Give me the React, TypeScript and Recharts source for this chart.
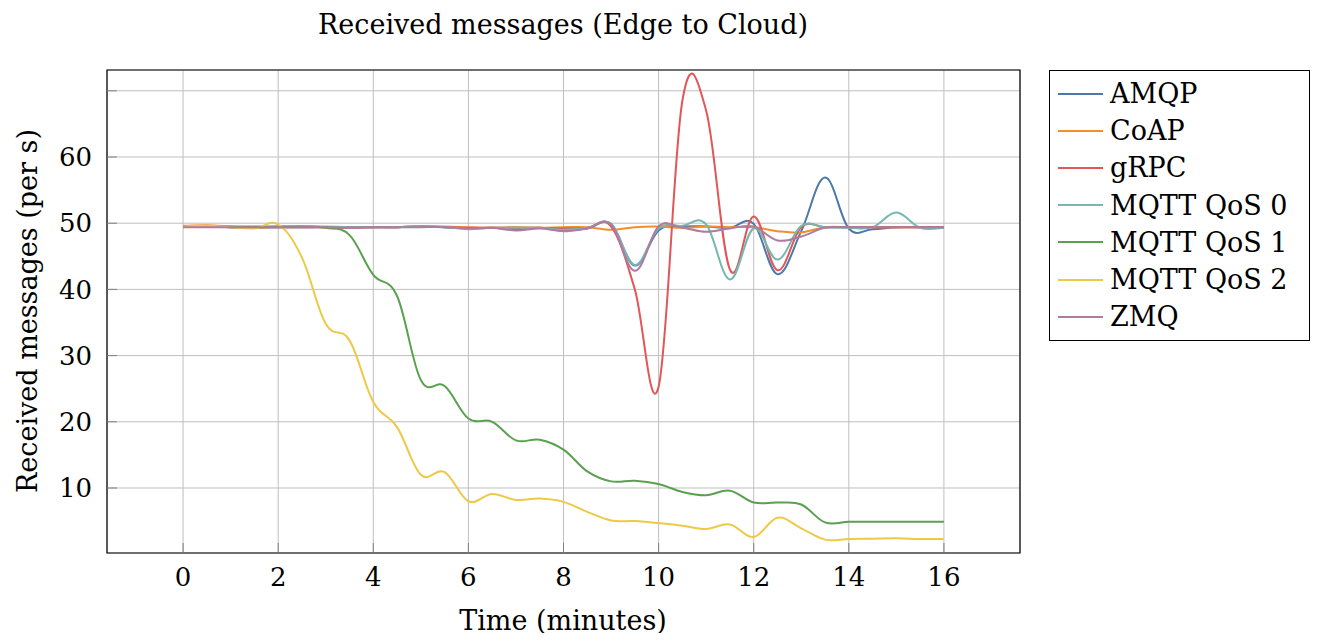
import React from 'react';
import { LineChart, Line, XAxis, YAxis, CartesianGrid, ReferenceArea } from 'recharts';

// sample times, one every 30 s
const minutes = [
  0, 0.5, 1, 1.5, 2, 2.5, 3, 3.5, 4, 4.5, 5, 5.5, 6, 6.5, 7, 7.5, 8,
  8.5, 9, 9.5, 10, 10.5, 11, 11.5, 12, 12.5, 13, 13.5, 14, 14.5, 15, 15.5, 16,
];

const amqp = [
  49.5, 49.5, 49.4, 49.4, 49.4, 49.4, 49.4, 49.4, 49.4, 49.4, 49.5, 49.4, 49.2, 49.3, 49.1, 49.3, 48.9,
  49.2, 49.9, 43.6, 48.9, 49.5, 49.5, 49.3, 49.9, 42.3, 48.8, 56.9, 49.2, 49.1, 49.4, 49.4, 49.4,
];
const coap = [
  49.6, 49.7, 49.5, 49.3, 49.5, 49.5, 49.4, 49.3, 49.4, 49.4, 49.5, 49.5, 49.4, 49.3, 49.4, 49.3, 49.4,
  49.4, 49.0, 49.4, 49.5, 49.3, 49.5, 49.4, 49.4, 48.8, 48.6, 49.4, 49.4, 49.4, 49.4, 49.4, 49.4,
];
const grpc = [
  49.5, 49.5, 49.4, 49.4, 49.4, 49.4, 49.4, 49.4, 49.4, 49.4, 49.5, 49.4, 49.3, 49.3, 49.3, 49.3, 49.2,
  49.3, 49.5, 40.0, 25.3, 68.5, 67.0, 43.0, 51.0, 42.9, 49.4, 49.4, 49.4, 49.4, 49.4, 49.4, 49.4,
];
const mqtt0 = [
  49.5, 49.5, 49.4, 49.4, 49.4, 49.5, 49.5, 49.4, 49.4, 49.4, 49.5, 49.4, 49.1, 49.3, 49.3, 49.3, 49.0,
  49.3, 49.9, 43.7, 49.2, 49.6, 49.8, 41.5, 49.2, 44.5, 49.6, 49.4, 49.3, 49.4, 51.6, 49.3, 49.3,
];
const mqtt1 = [
  49.5, 49.5, 49.5, 49.5, 49.5, 49.5, 49.3, 48.2, 42.2, 39.0, 26.3, 25.4, 20.5, 20.0, 17.2, 17.3, 15.8,
  12.5, 11.0, 11.1, 10.6, 9.4, 8.9, 9.6, 7.8, 7.8, 7.5, 4.8, 4.9, 4.9, 4.9, 4.9, 4.9,
];
const mqtt2 = [
  49.5, 49.6, 49.4, 49.2, 49.8, 44.8, 34.8, 32.3, 23.0, 19.2, 12.0, 12.4, 8.0, 9.1, 8.2, 8.4, 7.9,
  6.4, 5.1, 5.0, 4.7, 4.3, 3.8, 4.5, 2.6, 5.5, 3.9, 2.2, 2.3, 2.35, 2.4, 2.3, 2.3,
];
const zmq = [
  49.4, 49.4, 49.4, 49.4, 49.4, 49.4, 49.4, 49.3, 49.4, 49.4, 49.4, 49.4, 49.2, 49.3, 48.9, 49.2, 48.8,
  49.2, 49.8, 42.8, 49.5, 49.3, 48.7, 49.2, 49.5, 47.4, 48.0, 49.3, 49.4, 49.4, 49.4, 49.4, 49.4,
];

const xTicks = [0, 2, 4, 6, 8, 10, 12, 14, 16];
const yTicks = [10, 20, 30, 40, 50, 60, 70];

const series = [
  { key: 'amqp', name: 'AMQP', values: amqp, color: '#4e79a7' },
  { key: 'coap', name: 'CoAP', values: coap, color: '#f28e2b' },
  { key: 'grpc', name: 'gRPC', values: grpc, color: '#e15759' },
  { key: 'mqtt0', name: 'MQTT QoS 0', values: mqtt0, color: '#76b7b2' },
  { key: 'mqtt1', name: 'MQTT QoS 1', values: mqtt1, color: '#59a14f' },
  { key: 'mqtt2', name: 'MQTT QoS 2', values: mqtt2, color: '#edc948' },
  { key: 'zmq', name: 'ZMQ', values: zmq, color: '#b07aa1' },
];

const data = minutes.map((t, i) => {
  const row: Record<string, number> = { t };
  series.forEach((s) => {
    row[s.key] = s.values[i];
  });
  return row;
});

const X_DOMAIN: [number, number] = [-1.6, 17.6];
const Y_DOMAIN: [number, number] = [0.18, 73.14];

const font = "'DejaVu Serif', serif";

// cardinal spline like pgfplots "smooth"
const smooth = (context: any) => {
  let pts: number[][] = [];
  const k = 0.183;
  return {
    areaStart() {},
    areaEnd() {},
    lineStart() {
      pts = [];
    },
    point(x: number, y: number) {
      pts.push([+x, +y]);
    },
    lineEnd() {
      const n = pts.length;
      if (!n) return;
      context.moveTo(pts[0][0], pts[0][1]);
      for (let i = 0; i < n - 1; i++) {
        const p0 = pts[Math.max(i - 1, 0)];
        const p1 = pts[i];
        const p2 = pts[i + 1];
        const p3 = pts[Math.min(i + 2, n - 1)];
        const c1x = p1[0] + k * (p2[0] - p0[0]);
        const c1y = p1[1] + k * (p2[1] - p0[1]);
        const c2x = p2[0] - k * (p3[0] - p1[0]);
        const c2y = p2[1] - k * (p3[1] - p1[1]);
        context.bezierCurveTo(c1x, c1y, c2x, c2y, p2[0], p2[1]);
      }
    },
  };
};

const LegendBox = () => (
  <div
    style={{
      position: 'absolute',
      left: 1041,
      top: 62,
      width: 261,
      height: 271,
      boxSizing: 'border-box',
      border: '1px solid #000',
      background: '#fff',
      paddingTop: 4,
      fontFamily: font,
      fontSize: 27,
    }}
  >
    {series.map((s) => (
      <div key={s.key} style={{ display: 'flex', alignItems: 'center', height: 37.2 }}>
        <div style={{ width: 45, height: 2, background: s.color, marginLeft: 8, marginRight: 7 }} />
        <span style={{ whiteSpace: 'nowrap' }}>{s.name}</span>
      </div>
    ))}
  </div>
);

export default function App() {
  return (
    <div style={{ position: 'relative', width: 1303, height: 625 }}>
      <div
        style={{
          position: 'absolute',
          left: 0,
          top: 2,
          width: 1110,
          textAlign: 'center',
          lineHeight: '30px',
          fontFamily: font,
          fontSize: 27,
        }}
      >
        Received messages (Edge to Cloud)
      </div>
      <LineChart width={1303} height={625} data={data} margin={{ top: 62, right: 291, bottom: 20, left: 0 }}>
        <CartesianGrid stroke="#bfbfbf" strokeWidth={1} />
        <XAxis
          dataKey="t"
          type="number"
          domain={X_DOMAIN}
          ticks={xTicks}
          height={60}
          axisLine={false}
          tickSize={-10}
          tickMargin={25}
          tickLine={{ stroke: '#808080' }}
          tick={{ fill: '#000', fontSize: 26, fontFamily: font }}
        />
        <YAxis
          type="number"
          domain={Y_DOMAIN}
          ticks={yTicks}
          width={99}
          axisLine={false}
          tickSize={-10}
          tickMargin={25}
          tickLine={{ stroke: '#808080' }}
          tickFormatter={(v: number) => (v === 70 ? '' : String(v))}
          tick={{ fill: '#000', fontSize: 26, fontFamily: font }}
        />
        {series.map((s) => (
          <Line
            key={s.key}
            dataKey={s.key}
            name={s.name}
            type={smooth as any}
            stroke={s.color}
            strokeWidth={2}
            dot={false}
            isAnimationActive={false}
          />
        ))}
        <ReferenceArea
          x1={X_DOMAIN[0]}
          x2={X_DOMAIN[1]}
          y1={Y_DOMAIN[0]}
          y2={Y_DOMAIN[1]}
          fill="none"
          stroke="#000"
          strokeWidth={1.2}
        />
      </LineChart>
      <div
        style={{
          position: 'absolute',
          left: 0,
          top: 600,
          width: 1110,
          textAlign: 'center',
          lineHeight: '26px',
          fontFamily: font,
          fontSize: 27,
        }}
      >
        Time (minutes)
      </div>
      <div
        style={{
          position: 'absolute',
          left: 20,
          top: 303,
          transform: 'translate(-50%, -50%) rotate(-90deg)',
          whiteSpace: 'nowrap',
          lineHeight: '30px',
          fontFamily: font,
          fontSize: 27,
        }}
      >
        Received messages (per s)
      </div>
      <LegendBox />
    </div>
  );
}
